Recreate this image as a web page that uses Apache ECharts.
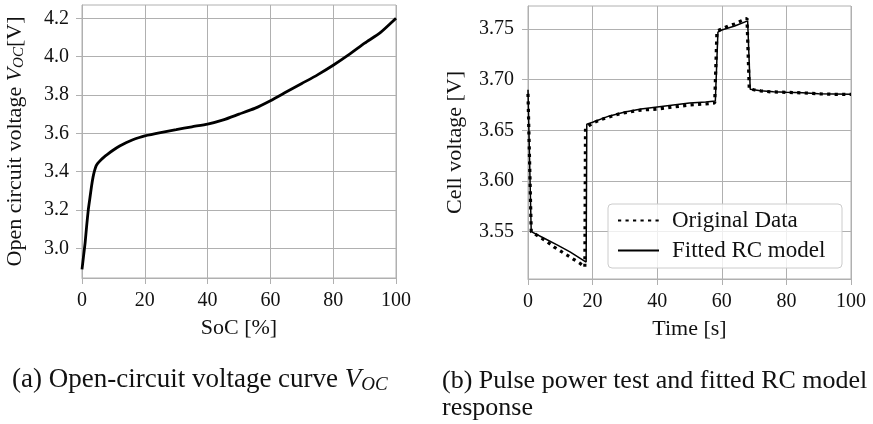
<!DOCTYPE html>
<html><head><meta charset="utf-8">
<script src="https://cdn.jsdelivr.net/npm/echarts@6/dist/echarts.min.js"></script>
<style>html,body{margin:0;padding:0;background:#fff}#c{width:873px;height:424px}</style>
</head><body><div id="c"></div>
<script>
// ---- Data ----
const socPct = [0, 0.5, 1, 1.5, 2, 2.5, 3, 3.5, 4, 4.5, 5, 6, 7, 8, 10, 12, 14, 16, 18, 20, 25, 30, 35, 40, 45, 50, 55, 60, 65, 70, 75, 80, 85, 90, 95, 100];
const ocvVolt = [2.89, 2.96, 3.03, 3.12, 3.20, 3.26, 3.32, 3.37, 3.405, 3.43, 3.443, 3.461, 3.476, 3.489, 3.513, 3.534, 3.551, 3.565, 3.577, 3.587, 3.604, 3.619, 3.634, 3.648, 3.67, 3.70, 3.73, 3.77, 3.815, 3.86, 3.905, 3.955, 4.01, 4.07, 4.125, 4.2];

const timeOrig = [0, 1, 2, 4, 6, 8, 10, 12, 14, 16, 17.6, 17.8, 19, 20, 22, 25, 28, 31, 35, 40, 45, 50, 55, 57.8, 58.5, 60, 62, 64, 66, 67.8, 68.5, 70, 72, 75, 80, 85, 90, 95, 100];
const voltOrig = [3.686, 3.550, 3.548, 3.544, 3.540, 3.535, 3.531, 3.527, 3.523, 3.519, 3.515, 3.652, 3.655, 3.657, 3.660, 3.663, 3.666, 3.668, 3.670, 3.671, 3.673, 3.675, 3.676, 3.677, 3.748, 3.750, 3.753, 3.755, 3.758, 3.7605, 3.691, 3.690, 3.689, 3.688, 3.6875, 3.687, 3.686, 3.6855, 3.6855];

const timeFit = [0, 1, 5, 9, 13, 18, 18.2, 20, 25, 30, 35, 40, 45, 50, 55, 58, 58.8, 60, 64, 68, 68.8, 72, 76, 80, 85, 90, 95, 100];
const voltFit = [3.690, 3.550, 3.5435, 3.537, 3.530, 3.520, 3.656, 3.658, 3.664, 3.668, 3.671, 3.673, 3.675, 3.677, 3.678, 3.679, 3.747, 3.749, 3.753, 3.758, 3.6905, 3.689, 3.688, 3.6875, 3.687, 3.686, 3.6858, 3.6856];

const socTicks = [0, 20, 40, 60, 80, 100];
const ocvTicks = [3.0, 3.2, 3.4, 3.6, 3.8, 4.0, 4.2];
const timeTicks = [0, 20, 40, 60, 80, 100];
const cellTicks = [3.55, 3.60, 3.65, 3.70, 3.75];

const seriesNames = ['Original Data', 'Fitted RC model'];

// ---- Styling ----
const FONT = 'Liberation Serif';
const TXT = '#111';
const GRIDC = '#b0b0b0';

function zip(a, b) { return a.map((v, i) => [v, b[i]]); }

function xAxisCfg(idx, ticks, name) {
  return {
    type: 'value', gridIndex: idx, min: ticks[0], max: ticks[ticks.length - 1], interval: 20,
    name: name, nameLocation: 'middle', nameGap: 39,
    nameTextStyle: { fontFamily: FONT, fontSize: 22, color: TXT },
    axisLine: { show: true, lineStyle: { color: GRIDC, width: 1 } },
    axisTick: { show: true, inside: false, length: 6, lineStyle: { color: GRIDC, width: 1 } },
    axisLabel: { fontFamily: FONT, fontSize: 20, color: TXT, margin: 13, hideOverlap: false,
                 formatter: v => String(v) },
    splitLine: { show: true, lineStyle: { color: GRIDC, width: 1 } }
  };
}

const subRich = {
  i: { fontFamily: FONT, fontSize: 22, fontStyle: 'italic', color: TXT },
  s: { fontFamily: FONT, fontSize: 15, fontStyle: 'italic', color: TXT, padding: [9, 0, 0, 0] },
  n: { fontFamily: FONT, fontSize: 22, color: TXT }
};

const option = {
  animation: false,
  backgroundColor: '#ffffff',
  grid: [
    { left: 82, top: 5, width: 314, height: 273, show: true, borderColor: GRIDC, borderWidth: 1, backgroundColor: 'transparent', outerBoundsMode: 'none', containLabel: false },
    { left: 528, top: 6, width: 323, height: 273, show: true, borderColor: GRIDC, borderWidth: 1, backgroundColor: 'transparent', outerBoundsMode: 'none', containLabel: false }
  ],
  xAxis: [
    xAxisCfg(0, socTicks, 'SoC [%]'),
    xAxisCfg(1, timeTicks, 'Time [s]')
  ],
  yAxis: [
    {
      type: 'value', gridIndex: 0, min: 2.845, max: 4.2694,
      name: '{n|Open circuit voltage }{i|V}{s|OC}{n|[V]}', nameLocation: 'middle', nameGap: 55, nameRotate: 90,
      nameTextStyle: { fontFamily: FONT, fontSize: 22, color: TXT, rich: subRich },
      axisLine: { show: true, lineStyle: { color: GRIDC, width: 1 } },
      axisTick: { show: true, inside: false, length: 6, customValues: ocvTicks, lineStyle: { color: GRIDC, width: 1 } },
      axisLabel: { fontFamily: FONT, fontSize: 20, color: TXT, margin: 13, customValues: ocvTicks, hideOverlap: false,
                   formatter: v => Number(v).toFixed(1) },
      splitLine: { show: true, lineStyle: { color: GRIDC, width: 1 } }
    },
    {
      type: 'value', gridIndex: 1, min: 3.5033, max: 3.7727,
      name: 'Cell voltage [V]', nameLocation: 'middle', nameGap: 62, nameRotate: 90,
      nameTextStyle: { fontFamily: FONT, fontSize: 22, color: TXT },
      axisLine: { show: true, lineStyle: { color: GRIDC, width: 1 } },
      axisTick: { show: true, inside: false, length: 6, customValues: cellTicks, lineStyle: { color: GRIDC, width: 1 } },
      axisLabel: { fontFamily: FONT, fontSize: 20, color: TXT, margin: 14, customValues: cellTicks, hideOverlap: false,
                   formatter: v => Number(v).toFixed(2) },
      splitLine: { show: true, lineStyle: { color: GRIDC, width: 1 } }
    }
  ],
  legend: {
    data: seriesNames,
    orient: 'vertical',
    left: 608, top: 204,
    padding: [5, 10, 6, 9],
    itemWidth: 41, itemHeight: 14, itemGap: 7,
    itemStyle: { opacity: 0, borderWidth: 0 },
    backgroundColor: 'rgba(255,255,255,0.8)',
    borderColor: '#cccccc', borderWidth: 1, borderRadius: 4,
    textStyle: { fontFamily: FONT, fontSize: 23, color: TXT, lineHeight: 23, width: 160, padding: [0, 0, 0, 8] },
    selectedMode: false
  },
  series: [
    {
      type: 'line', xAxisIndex: 0, yAxisIndex: 0, data: zip(socPct, ocvVolt),
      symbol: 'none', smooth: 0.2, lineStyle: { color: '#000', width: 2.8 }, itemStyle: { color: '#000' }, z: 3
    },
    {
      name: seriesNames[0], type: 'line', xAxisIndex: 1, yAxisIndex: 1, data: zip(timeOrig, voltOrig),
      symbol: 'none', lineStyle: { color: '#000', width: 3.2, type: [3.2, 4.3], cap: 'butt' }, itemStyle: { color: '#000' }, z: 3
    },
    {
      name: seriesNames[1], type: 'line', xAxisIndex: 1, yAxisIndex: 1, data: zip(timeFit, voltFit),
      symbol: 'none', lineStyle: { color: '#000', width: 1.5 }, itemStyle: { color: '#000' }, z: 4
    }
  ],
  graphic: [
    {
      type: 'text', left: 12, top: 366,
      style: {
        text: '{n|(a) Open-circuit voltage curve }{i|V}{s|OC}',
        rich: {
          n: { fontFamily: FONT, fontSize: 27, fill: TXT },
          i: { fontFamily: FONT, fontSize: 27, fontStyle: 'italic', fill: TXT },
          s: { fontFamily: FONT, fontSize: 19, fontStyle: 'italic', fill: TXT, padding: [11, 0, 0, 0] }
        }
      }
    },
    {
      type: 'text', left: 442, top: 368,
      style: { text: '(b) Pulse power test and fitted RC model\nresponse', fontFamily: FONT, fontSize: 26, lineHeight: 27, fill: TXT }
    }
  ]
};

const chart = echarts.init(document.getElementById('c'), null, { renderer: 'canvas' });
chart.setOption(option);
</script>
</body></html>
